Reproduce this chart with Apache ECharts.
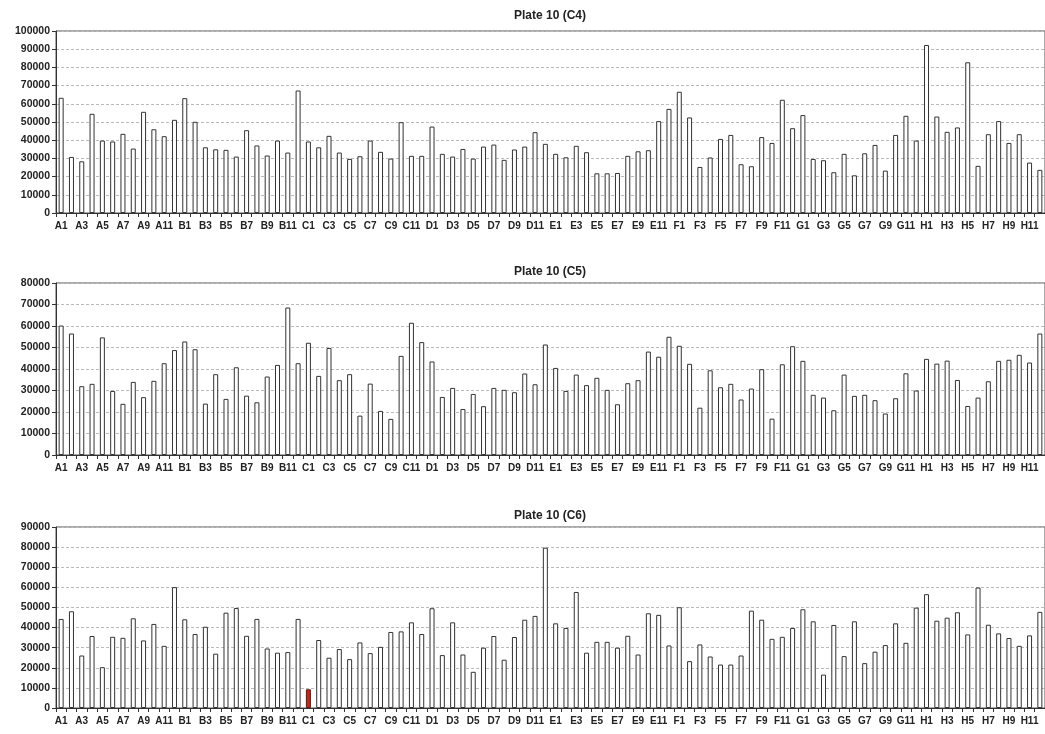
<!DOCTYPE html>
<html>
<head>
<meta charset="utf-8">
<script src="https://cdn.jsdelivr.net/npm/echarts@6/dist/echarts.min.js"></script>
<style>
html,body{margin:0;padding:0;background:#fff;}
#chart{width:1045px;height:734px;}
</style>
</head>
<body>
<div id="chart"></div>
<script>
var categories = [
 'A1','A2','A3','A4','A5','A6','A7','A8','A9','A10','A11','A12',
 'B1','B2','B3','B4','B5','B6','B7','B8','B9','B10','B11','B12',
 'C1','C2','C3','C4','C5','C6','C7','C8','C9','C10','C11','C12',
 'D1','D2','D3','D4','D5','D6','D7','D8','D9','D10','D11','D12',
 'E1','E2','E3','E4','E5','E6','E7','E8','E9','E10','E11','E12',
 'F1','F2','F3','F4','F5','F6','F7','F8','F9','F10','F11','F12',
 'G1','G2','G3','G4','G5','G6','G7','G8','G9','G10','G11','G12',
 'H1','H2','H3','H4','H5','H6','H7','H8','H9','H10','H11','H12'
];
var titles = ['Plate 10 (C4)', 'Plate 10 (C5)', 'Plate 10 (C6)'];
var yMax = [100000, 80000, 90000];
var yInterval = 10000;

var plateC4 = [
 63300,30800,28400,54500,39800,39300,43500,35400,55600,46000,42200,51200,
 63100,50100,36100,35000,34700,31000,45500,37100,31600,39800,33200,67300,
 39300,36100,42400,33200,29700,31200,39800,33600,29900,49900,31400,31400,
 47500,32500,31000,35200,29900,36500,37600,29200,34900,36500,44400,38000,
 32500,30600,36900,33400,21800,21800,22000,31400,33900,34500,50500,57200,
 66600,52500,25300,30500,40700,42900,26800,25700,41700,38500,62200,46600,
 53800,29700,29000,22400,32500,20700,32800,37400,23300,42900,53400,39800,
 92300,53000,44600,47000,82800,25900,43300,50500,38500,43300,27700,23700
];
var plateC5 = [
 60200,56500,32000,33100,54700,29800,23800,34000,26900,34500,42700,48800,
 52800,49200,23900,37600,26100,40800,27600,24500,36500,41900,68600,42700,
 52200,36800,49800,34800,37600,18300,33200,20500,16800,46100,61500,52500,
 43500,27000,31200,21400,28400,22700,31200,30300,29200,37900,32900,51400,
 40500,29800,37400,32500,35900,30300,23600,33400,34800,48100,45700,55000,
 50800,42400,22000,39400,31500,33100,25800,30900,39900,16900,42200,50600,
 43800,28000,26700,20800,37400,27500,28000,25500,19300,26400,38000,30000,
 44700,42500,43900,34900,22800,26700,34300,43800,44300,46600,43000,56500
];
var plateC6 = [
 44300,48100,26100,35800,20300,35400,34900,44600,33600,41800,30900,60100,
 44100,36800,40400,27000,47400,49700,35900,44300,29600,27500,27800,44300,
 9300,33800,25000,29300,24300,32600,27300,30400,37800,38100,42600,36800,
 49600,26300,42600,26600,18000,30000,35800,24000,35300,43900,45800,79700,
 42100,39800,57700,27500,32900,32900,30000,35900,26600,47100,46300,31100,
 50100,23300,31600,25600,21600,21600,26100,48400,43900,34400,35400,39800,
 49100,43100,16600,41300,25800,43100,22300,28000,31300,42100,32400,49900,
 56600,43400,44900,47600,36600,59900,41400,37100,34800,30900,36100,47800
];
var highlighted = { plate: 2, category: 'C1' };

var plates = [plateC4, plateC5, plateC6];
var grids = [
 {left:56, top:31, width:992, height:182},
 {left:56, top:283, width:992, height:172},
 {left:56, top:527, width:992, height:181}
];
var titleTops = [5, 261, 505];
var FONT = '"Liberation Sans", Arial, sans-serif';

var option = {
 animation:false,
 backgroundColor:'#fff',
 title: titles.map(function(t,i){return {
   text:t, left:545, top:titleTops[i], textAlign:'center',
   textStyle:{fontFamily:FONT, fontSize:12, fontWeight:'bold', color:'#222'}
 };}),
 grid: grids.map(function(g){return Object.assign({show:true, borderColor:'#555', borderWidth:1, backgroundColor:'transparent'}, g);}),
 xAxis: grids.map(function(g,i){return {
   type:'category', gridIndex:i, data:categories, boundaryGap:true,
   axisLine:{lineStyle:{color:'#333', width:1}},
   axisTick:{show:true, interval:0, length:4, lineStyle:{color:'#333'}},
   axisLabel:{interval:1, margin:8, fontFamily:FONT, fontSize:10, fontWeight:'bold', color:'#222'},
   splitLine:{show:false}
 };}),
 yAxis: grids.map(function(g,i){return {
   type:'value', gridIndex:i, min:0, max:yMax[i], interval:yInterval,
   axisLine:{show:true, lineStyle:{color:'#333', width:1}},
   axisTick:{show:true, length:4, lineStyle:{color:'#333'}},
   axisLabel:{margin:6, fontFamily:FONT, fontSize:10.5, fontWeight:'bold', color:'#222',
     formatter:function(v){return String(v);}},
   splitLine:{show:true, lineStyle:{color:'#bbb', type:[3,2], width:1}}
 };}),
 series: plates.map(function(vals,i){return {
   type:'bar', xAxisIndex:i, yAxisIndex:i, barWidth:5,
   itemStyle:{color:'#fff', borderColor:'#333', borderWidth:1},
   data: vals.map(function(v,k){
     if (highlighted.plate===i && categories[k]===highlighted.category){
       return {value:v, itemStyle:{color:'#c0281c', borderColor:'#5a1a10'}};
     }
     return v;
   })
 };})
};
var chart = echarts.init(document.getElementById('chart'), null, {renderer:'canvas'});
chart.setOption(option);
</script>
</body>
</html>
